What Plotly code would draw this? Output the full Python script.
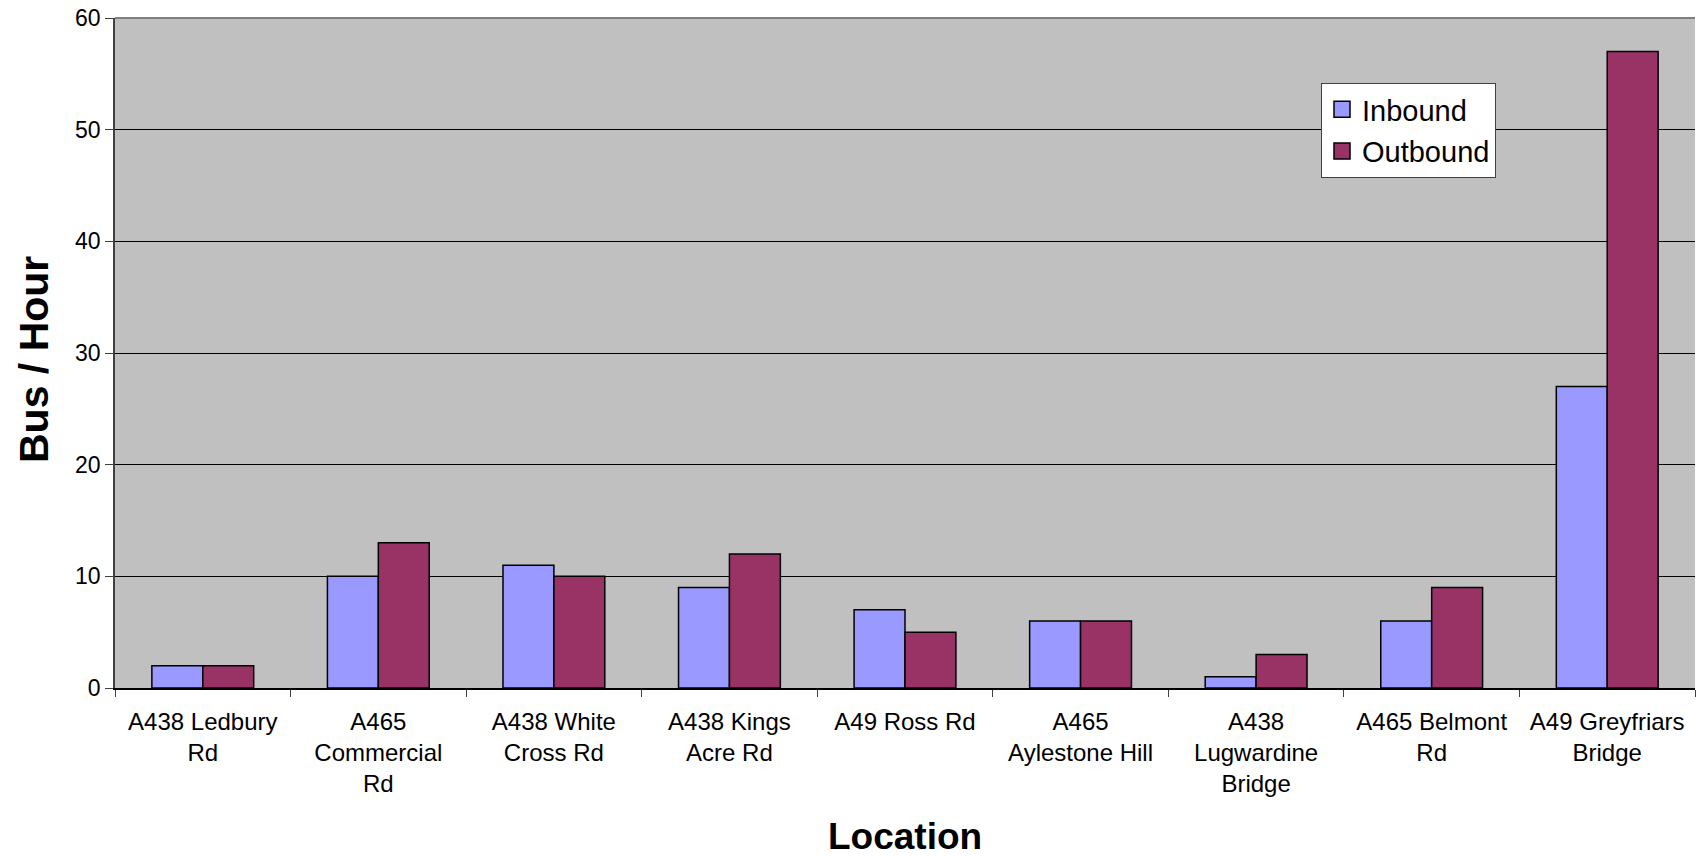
import plotly.graph_objects as go

locations = [
    "A438 Ledbury<br>Rd",
    "A465<br>Commercial<br>Rd",
    "A438 White<br>Cross Rd",
    "A438 Kings<br>Acre Rd",
    "A49 Ross Rd",
    "A465<br>Aylestone Hill",
    "A438<br>Lugwardine<br>Bridge",
    "A465 Belmont<br>Rd",
    "A49 Greyfriars<br>Bridge",
]
inbound = [2, 10, 11, 9, 7, 6, 1, 6, 27]
outbound = [2, 13, 10, 12, 5, 6, 3, 9, 57]

series = [("Inbound", inbound, "#9999FF"), ("Outbound", outbound, "#993366")]

FONT = "Arial, Liberation Sans, sans-serif"

fig = go.Figure()
for name, vals, color in series:
    fig.add_trace(go.Bar(
        x=locations, y=vals, name=name, showlegend=False,
        marker=dict(color=color, line=dict(color="black", width=1.5)),
    ))
# legend entries drawn as larger square swatches
for name, vals, color in series:
    fig.add_trace(go.Scatter(
        x=[None], y=[None], name=name, mode="markers", legendgroup=name,
        marker=dict(symbol="square", size=16, color=color,
                    line=dict(color="black", width=1.5)),
    ))

W, H = 1698, 856
L, R, T, B = 115, 3, 18, 168
pw, ph = W - L - R, H - T - B

fig.update_layout(
    width=W, height=H,
    margin=dict(l=L, r=R, t=T, b=B, pad=0),
    paper_bgcolor="white",
    plot_bgcolor="#C0C0C0",
    barmode="group",
    bargap=0.42,
    bargroupgap=0,
    font=dict(family=FONT, size=24, color="black"),
    showlegend=True,
    legend=dict(
        x=(1321 - L) / pw, y=(T + ph - 83) / ph,
        xanchor="left", yanchor="top",
        bgcolor="white", bordercolor="#404040", borderwidth=1,
        font=dict(family=FONT, size=29, color="black"),
        itemsizing="trace",
        tracegroupgap=1,
        itemwidth=30,
    ),
    xaxis=dict(
        type="category",
        showgrid=False,
        showline=True, linecolor="black", linewidth=1.5,
        ticks="outside", tickson="boundaries", ticklen=7,
        tickcolor="#404040", tickwidth=1,
        tickfont=dict(family=FONT, size=24, color="black"),
        ticklabelstandoff=11,
        automargin=False,
    ),
    yaxis=dict(
        range=[0, 60], dtick=10,
        showgrid=True, gridcolor="black", gridwidth=1,
        showline=True, linecolor="#404040", linewidth=1.5,
        ticks="outside", ticklen=8, tickcolor="#404040",
        tickfont=dict(family=FONT, size=23, color="black"),
        zeroline=False,
        automargin=False,
    ),
    shapes=[dict(
        type="line", xref="paper", yref="paper",
        x0=0, x1=1, y0=1, y1=1,
        line=dict(color="#808080", width=2),
    )],
    annotations=[
        dict(
            text="<b>Location</b>", xref="paper", yref="paper",
            x=(905 - L) / pw, y=(T + ph - 837) / ph,
            xanchor="center", yanchor="middle", showarrow=False,
            font=dict(family=FONT, size=37, color="black"),
        ),
        dict(
            text="<b>Bus / Hour</b>", xref="paper", yref="paper",
            x=(34 - L) / pw, y=(T + ph - 360) / ph,
            xanchor="center", yanchor="middle", showarrow=False,
            textangle=-90,
            font=dict(family=FONT, size=41, color="black"),
        ),
    ],
)

fig.write_html("out.html")
